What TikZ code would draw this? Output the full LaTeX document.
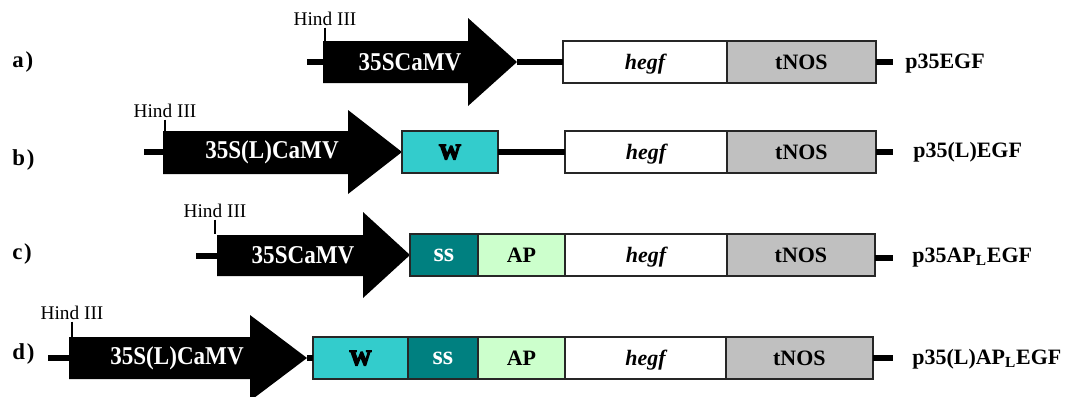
\documentclass[tikz,border=0pt]{standalone}
\usepackage{fontspec}
\setmainfont{Liberation Serif}
\newfontface\heavyfont[FakeBold=6]{Liberation Serif Bold}
\newfontface\tallfont[FakeStretch=0.9]{Liberation Serif Bold}
\usetikzlibrary{positioning}

\definecolor{wcyan}{HTML}{33CCCC}
\definecolor{ssteal}{HTML}{008080}
\definecolor{apgreen}{HTML}{CCFFCC}
\definecolor{nosgrey}{HTML}{C0C0C0}

\begin{document}
\begin{tikzpicture}[x=0.02cm, y=-0.02cm,
	seg/.style={draw=black!85, line width=1.1pt, minimum height=0.84cm, inner sep=0pt, outer sep=0pt, text depth=0pt, font=\bfseries\fontsize{12.5}{14}\selectfont},
	ssseg/.style={seg, fill=ssteal, text=white, font=\bfseries\fontsize{15}{17}\selectfont},
	dna/.style={line width=3pt},
	promo/.style={fill=black},
	plabel/.style={text=white, inner sep=0pt, font=\tallfont\fontsize{14.6}{17}\selectfont},
	site/.style={inner sep=0pt, anchor=base, font=\fontsize{11}{13}\selectfont},
	tick/.style={line width=0.6pt},
	cname/.style={anchor=base west, inner sep=0pt, font=\bfseries\fontsize{12.5}{14}\selectfont},
	rowlab/.style={anchor=west, inner sep=0pt, font=\bfseries\fontsize{13}{15}\selectfont}]
	\clip (0,0) rectangle (1087,396);

	% a) p35EGF
	\node[rowlab] (lab_a) at (12,62) {a\kern1pt)};
	\coordinate (lead_a) at (307,62);
	\coordinate (tail_a) at (323,62);
	\coordinate (tip_a) at (517,62);
	\coordinate (end_a) at (893,62);
	\draw[dna] (lead_a) -- (tail_a);
	\fill[promo] (323,41) -- (468,41) -- (468,18) -- (517,62) -- (468,106) -- (468,83) -- (323,83) -- cycle;
	\node[plabel] (prom_a) at (410,62) {35SCaMV};
	\node[seg, anchor=west, minimum width=3.28cm, fill=white] (egf_a) at (563,62) {\itshape hegf};
	\node[seg, minimum width=2.98cm, fill=nosgrey, right=0pt of egf_a] (nos_a) {tNOS};
	\draw[dna] (tip_a) -- (egf_a);
	\draw[dna] (nos_a) -- (end_a);
	\node[site] (hind_a) at (325,25) {Hind III};
	\draw[tick] (hind_a.south) ++(0,2) -- (hind_a.south |- egf_a.north);
	\node[cname] (name_a) at (905,68) {p35EGF};

	% b) p35(L)EGF
	\node[rowlab] (lab_b) at (12,160) {b\kern1pt)};
	\coordinate (lead_b) at (144,152);
	\coordinate (tail_b) at (163,152);
	\coordinate (tip_b) at (402,152);
	\coordinate (end_b) at (893,152);
	\draw[dna] (lead_b) -- (tail_b);
	\fill[promo] (163,131) -- (348,131) -- (348,110) -- (402,152) -- (348,194) -- (348,174) -- (163,174) -- cycle;
	\node[plabel] (prom_b) at (272,152) {35S(L)CaMV};
	\node[seg, anchor=west, minimum width=1.92cm, fill=wcyan] (w_b) at (402,152) {\heavyfont W};
	\node[seg, anchor=west, minimum width=3.24cm, fill=white] (egf_b) at (565,152) {\itshape hegf};
	\node[seg, minimum width=2.98cm, fill=nosgrey, right=0pt of egf_b] (nos_b) {tNOS};
	\draw[dna] (w_b) -- (egf_b);
	\draw[dna] (nos_b) -- (end_b);
	\node[site] (hind_b) at (165,117) {Hind III};
	\draw[tick] (hind_b.south) ++(0,2) -- (hind_b.south |- w_b.north);
	\node[cname] (name_b) at (913,157) {p35(L)EGF};

	% c) p35AP_L EGF
	\node[rowlab] (lab_c) at (12,254) {c\kern1pt)};
	\coordinate (lead_c) at (196,256);
	\coordinate (tail_c) at (217,256);
	\coordinate (end_c) at (893,258);
	\draw[dna] (lead_c) -- (tail_c);
	\fill[promo] (217,235) -- (363,235) -- (363,212) -- (410,255) -- (363,298) -- (363,276) -- (217,276) -- cycle;
	\node[plabel] (prom_c) at (303,255) {35SCaMV};
	\node[ssseg, anchor=west, minimum width=1.36cm] (ss_c) at (410,255) {ss};
	\node[seg, minimum width=1.74cm, fill=apgreen, right=0pt of ss_c] (ap_c) {AP};
	\node[seg, minimum width=3.24cm, fill=white, right=0pt of ap_c] (egf_c) {\itshape hegf};
	\node[seg, minimum width=2.96cm, fill=nosgrey, right=0pt of egf_c] (nos_c) {tNOS};
	\draw[dna] (nos_c.east |- end_c) -- (end_c);
	\node[site] (hind_c) at (215,217) {Hind III};
	\draw[tick] (hind_c.south) ++(0,2) -- (hind_c.south |- ss_c.north);
	\node[cname] (name_c) at (912,262) {p35AP\textsubscript{L}EGF};

	% d) p35(L)AP_L EGF
	\node[rowlab] (lab_d) at (12,354) {d\kern1pt)};
	\coordinate (lead_d) at (48,358);
	\coordinate (tail_d) at (69,358);
	\coordinate (tip_d) at (307,358);
	\coordinate (end_d) at (893,358);
	\draw[dna] (lead_d) -- (tail_d);
	\fill[promo] (69,337) -- (250,337) -- (250,315) -- (307,358) -- (250,401) -- (250,379) -- (69,379) -- cycle;
	\node[plabel] (prom_d) at (177,358) {35S(L)CaMV};
	\node[seg, anchor=west, minimum width=1.9cm, fill=wcyan] (w_d) at (313,358) {\heavyfont W};
	\node[ssseg, minimum width=1.4cm, right=0pt of w_d] (ss_d) {ss};
	\node[seg, minimum width=1.74cm, fill=apgreen, right=0pt of ss_d] (ap_d) {AP};
	\node[seg, minimum width=3.22cm, fill=white, right=0pt of ap_d] (egf_d) {\itshape hegf};
	\node[seg, minimum width=2.94cm, fill=nosgrey, right=0pt of egf_d] (nos_d) {tNOS};
	\draw[dna] (tip_d) -- (w_d);
	\draw[dna] (nos_d) -- (end_d);
	\node[site] (hind_d) at (72,319) {Hind III};
	\draw[tick] (hind_d.south) ++(0,2) -- (hind_d.south |- w_d.north);
	\node[cname] (name_d) at (912,364) {p35(L)AP\textsubscript{L}EGF};
\end{tikzpicture}
\end{document}
